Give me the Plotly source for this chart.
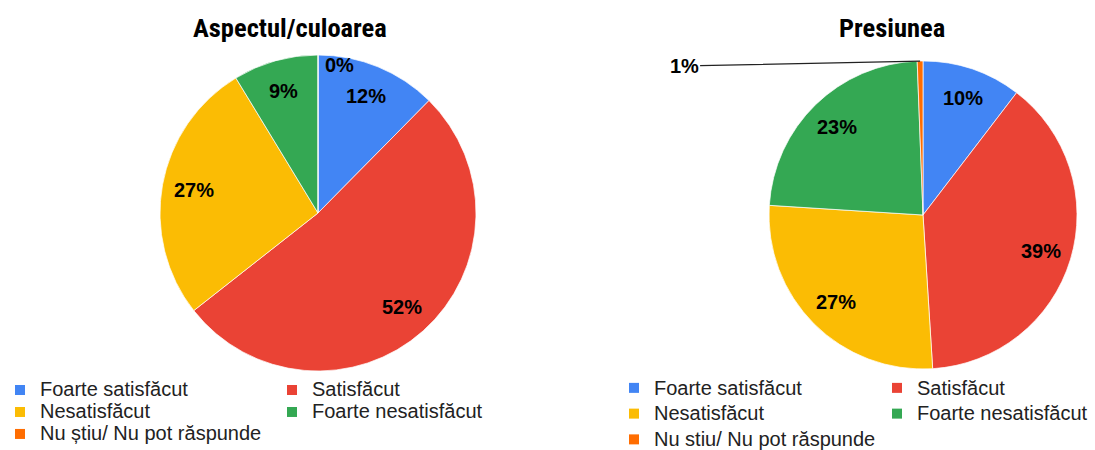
import math
import plotly.graph_objects as go

# ---------------- data ----------------
titles = ["Aspectul/culoarea", "Presiunea"]
categories_left = ["Foarte satisfăcut", "Satisfăcut", "Nesatisfăcut",
                   "Foarte nesatisfăcut", "Nu știu/ Nu pot răspunde"]
categories_right = ["Foarte satisfăcut", "Satisfăcut", "Nesatisfăcut",
                    "Foarte nesatisfăcut", "Nu stiu/ Nu pot răspunde"]
aspect_values = [12.4, 52.0, 26.9, 8.7, 0.0]
presiune_values = [10.4, 38.6, 27.0, 23.4, 0.6]
colors = ["#4285F4", "#EA4335", "#FBBC04", "#34A853", "#FF6D01"]

# ---------------- layout geometry ----------------
W, H = 1095, 450
LEFT = dict(cx=318, cy=213, r=158)
RIGHT = dict(cx=923, cy=215, r=154)
LABEL_R = 0.8  # labels sit at 80% of the radius, on the slice bisector


def domain(g):
    return dict(x=[(g["cx"] - g["r"]) / W, (g["cx"] + g["r"]) / W],
                y=[1 - (g["cy"] + g["r"]) / H, 1 - (g["cy"] - g["r"]) / H])


def slice_point(values, idx, g, frac):
    total = sum(values)
    theta = (sum(values[:idx]) + values[idx] / 2) / total * 2 * math.pi
    return (g["cx"] + frac * g["r"] * math.sin(theta),
            g["cy"] - frac * g["r"] * math.cos(theta))


def pct_text(values, idx):
    return f"{round(values[idx] / sum(values) * 100)}%"


fig = go.Figure()

label_font = dict(family="Liberation Sans, Arial, sans-serif", size=20,
                  color="black", weight="bold")

annotations = []
for k, (vals, cats, g) in enumerate([(aspect_values, categories_left, LEFT),
                                     (presiune_values, categories_right, RIGHT)]):
    fig.add_trace(go.Pie(
        values=vals, labels=cats, sort=False, direction="clockwise", rotation=0,
        domain=domain(g),
        marker=dict(colors=colors, line=dict(color="white", width=0.7)),
        textinfo="none",
        showlegend=False,
        hoverinfo="label+percent",
    ))
    total = sum(vals)
    for i, v in enumerate(vals):
        share = v / total
        if share >= 0.02:
            lx, ly = slice_point(vals, i, g, LABEL_R)
            annotations.append(dict(text=pct_text(vals, i), x=lx / W, y=1 - ly / H,
                                    xref="paper", yref="paper", showarrow=False,
                                    xanchor="center", yanchor="middle",
                                    font=label_font))
        elif v == 0:
            tx, ty = slice_point(vals, i, g, 1.0)
            annotations.append(dict(text=pct_text(vals, i), x=tx / W, y=1 - ty / H,
                                    xref="paper", yref="paper", showarrow=False,
                                    xanchor="center", yanchor="middle",
                                    xshift=22, yshift=-10, font=label_font))
        else:
            tx, ty = slice_point(vals, i, g, 1.0)
            annotations.append(dict(text=pct_text(vals, i), x=tx / W, y=1 - ty / H,
                                    xref="paper", yref="paper", showarrow=True,
                                    arrowhead=0, arrowwidth=1.3,
                                    arrowcolor="#222222",
                                    ax=-236, ay=5, font=label_font))

# legend entries (two columns per chart)
legend_specs = [
    ("legend", categories_left, 227, "L"),
    ("legend2", categories_right, 218, "R"),
]
for legend_id, cats, col_w, prefix in legend_specs:
    for i, (name, col) in enumerate(zip(cats, colors)):
        group = prefix + ("1" if i % 2 == 0 else "2")
        disp = f'<span style="font-size:20px">{name}</span>'
        kw = dict(legendwidth=col_w) if i % 2 == 0 else {}
        fig.add_trace(go.Scatter(
            x=[None], y=[None], mode="markers", name=disp,
            marker=dict(symbol="square", size=10, color=col),
            legend=legend_id, legendgroup=group, showlegend=True,
            hoverinfo="skip", **kw))

title_font = dict(family="Roboto Condensed, Roboto, sans-serif", size=26.5,
                  color="black", weight="bold")
annotations += [
    dict(text=titles[0], x=290 / W, y=1 - 27 / H, xref="paper", yref="paper",
         showarrow=False, xanchor="center", yanchor="middle", font=title_font),
    dict(text=titles[1], x=892 / W, y=1 - 27 / H, xref="paper", yref="paper",
         showarrow=False, xanchor="center", yanchor="middle", font=title_font),
]

fig.update_layout(
    width=W, height=H,
    margin=dict(l=0, r=0, t=0, b=0, autoexpand=False),
    paper_bgcolor="white", plot_bgcolor="white",
    xaxis=dict(visible=False), yaxis=dict(visible=False),
    annotations=annotations,
    legend=dict(x=0, y=1 - 374 / H, xanchor="left", yanchor="top",
                orientation="h", traceorder="grouped", tracegroupgap=0,
                bgcolor="rgba(0,0,0,0)",
                font=dict(family="Liberation Sans, Arial, sans-serif",
                          size=14.6, color="#222222")),
    legend2=dict(x=614 / W, y=1 - 370 / H, xanchor="left", yanchor="top",
                 orientation="h", traceorder="grouped", tracegroupgap=0,
                 bgcolor="rgba(0,0,0,0)",
                 font=dict(family="Liberation Sans, Arial, sans-serif",
                           size=17.5, color="#222222")),
)

fig.write_html("out.html",
               config={"displayModeBar": False},
               post_script="document.body.style.margin='0px';")
